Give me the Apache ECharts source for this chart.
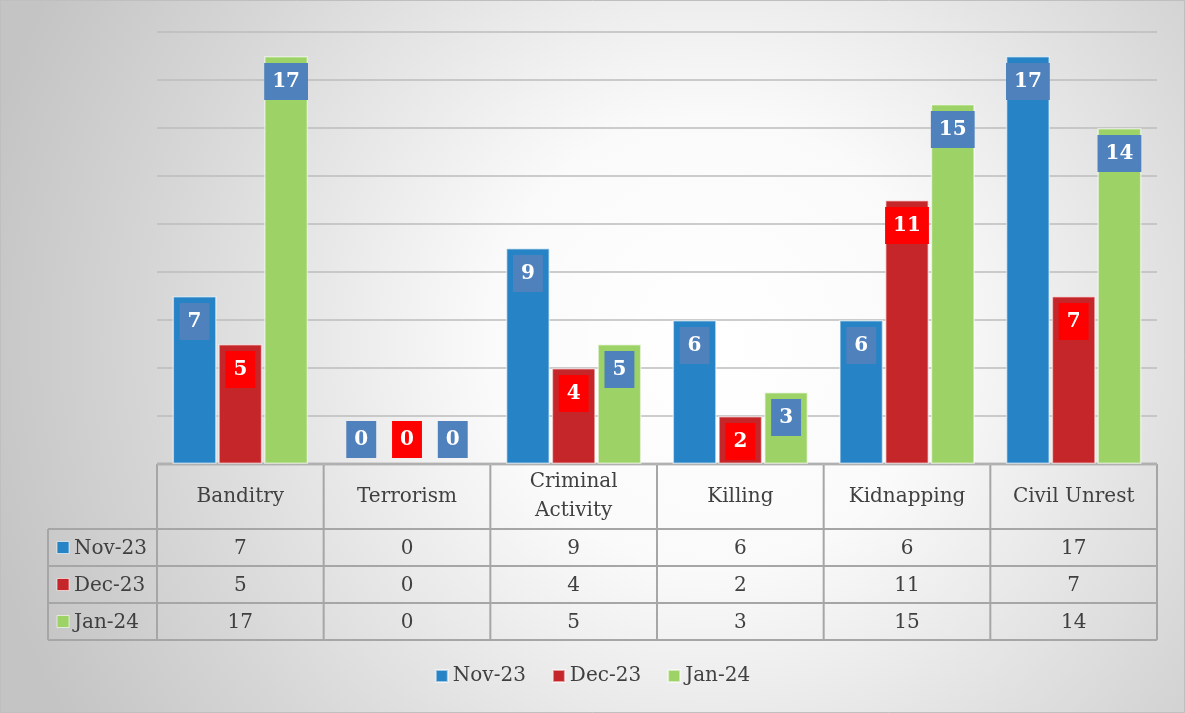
<!DOCTYPE html>
<html>
<head>
<meta charset="utf-8">
<script src="https://cdn.jsdelivr.net/npm/echarts@6/dist/echarts.min.js"></script>
<style>
html, body { margin: 0; padding: 0; }
#main { width: 1185px; height: 713px; }
</style>
</head>
<body>
<div id="main"></div>
<script>
const categories = ['Banditry', 'Terrorism', 'Criminal\nActivity', 'Killing', 'Kidnapping', 'Civil Unrest']
const seriesNames = ['Nov-23', 'Dec-23', 'Jan-24']
const nov23 = [7, 0, 9, 6, 6, 17]
const dec23 = [5, 0, 4, 2, 11, 7]
const jan24 = [17, 0, 5, 3, 15, 14]
const colors = ['#2683C6', '#C5262A', '#9DD366']
const labelBg = ['#4F81BD', '#FF0000', '#4F81BD']

const W = 1185, H = 713
const GL = 157, GR = 28, GT = 32, GB = 249
const font = 'DejaVu Serif'
const txt = '#404040'
const line = '#A6A6A6'

// table geometry
const tTop = H - GB, hdrH = 65, rowH = 37, leftX = 48
const colW = (W - GL - GR) / categories.length
const rows = [nov23, dec23, jan24]

let graphic = []
// outer border
graphic.push({ type: 'rect', shape: { x: 0.5, y: 0.5, width: W - 1, height: H - 1 }, style: { fill: 'none', stroke: '#BFBFBF', lineWidth: 1 }, silent: true })
let tBottom = tTop + hdrH + rowH * rows.length
let hLines = [[GL, tTop]]
for (let i = 0; i <= rows.length; i++) hLines.push([leftX, tTop + hdrH + rowH * i])
hLines.forEach(([x0, y]) => graphic.push({
    type: 'line', shape: { x1: x0, y1: y, x2: W - GR, y2: y },
    style: { stroke: y === tTop ? '#8C8C8C' : line, lineWidth: y === tTop ? 2.5 : 2 }, silent: true
}))
graphic.push({ type: 'line', shape: { x1: leftX, y1: tTop + hdrH, x2: leftX, y2: tBottom }, style: { stroke: line, lineWidth: 2 }, silent: true })
for (let i = 0; i <= categories.length; i++) {
    let x = GL + colW * i
    graphic.push({ type: 'line', shape: { x1: x, y1: tTop, x2: x, y2: tBottom }, style: { stroke: line, lineWidth: 2 }, silent: true })
}
categories.forEach((c, i) => {
    graphic.push({ type: 'text', x: GL + colW * (i + 0.5), y: tTop + hdrH / 2, style: { text: c, font: '20px "' + font + '"', fill: txt, align: 'center', verticalAlign: 'middle', lineHeight: 29 }, silent: true })
    rows.forEach((r, j) => {
        graphic.push({ type: 'text', x: GL + colW * (i + 0.5), y: tTop + hdrH + rowH * (j + 0.5) + 1, style: { text: String(r[i]), font: '20px "' + font + '"', fill: txt, align: 'center', verticalAlign: 'middle' }, silent: true })
    })
})
seriesNames.forEach((n, j) => {
    let cy = tTop + hdrH + rowH * (j + 0.5)
    graphic.push({ type: 'rect', shape: { x: leftX + 9, y: cy - 6, width: 12, height: 12 }, style: { fill: colors[j], stroke: 'rgba(255,255,255,0.6)', lineWidth: 1 }, silent: true })
    graphic.push({ type: 'text', x: leftX + 26, y: cy + 1, style: { text: n, font: '20px "' + font + '"', fill: txt, align: 'left', verticalAlign: 'middle' }, silent: true })
})

const chart = echarts.init(document.getElementById('main'))
chart.setOption({
    backgroundColor: {
        type: 'radial', x: 0.6, y: 0.48, r: 1.05,
        colorStops: [{ offset: 0, color: '#FFFFFF' }, { offset: 0.3, color: '#FAFAFA' }, { offset: 0.75, color: '#D6D6D6' }, { offset: 1, color: '#C4C4C4' }]
    },
    animation: false,
    grid: { left: GL, right: GR, top: GT, bottom: GB, outerBoundsMode: 'none' },
    legend: {
        data: seriesNames, bottom: 22, left: 'center', icon: 'rect', itemWidth: 12, itemHeight: 12, itemGap: 26,
        textStyle: { fontFamily: font, fontSize: 20, color: txt }
    },
    xAxis: {
        type: 'category', data: categories,
        axisLine: { show: false }, axisTick: { show: false }, axisLabel: { show: false }
    },
    yAxis: {
        type: 'value', min: 0, max: 18, interval: 2,
        axisLabel: { show: false }, axisLine: { show: false }, axisTick: { show: false },
        splitLine: { lineStyle: { color: '#BDBDBD', width: 1.5 } }
    },
    series: rows.map((r, j) => ({
        name: seriesNames[j], type: 'bar', barWidth: 44, barGap: '4%',
        itemStyle: { color: colors[j], borderColor: 'rgba(255,255,255,0.55)', borderWidth: 1.5 },
        label: {
            show: true, position: 'insideTop', distance: 7,
            fontFamily: font, fontWeight: 'bold', fontSize: 20, lineHeight: 21, color: '#fff',
            backgroundColor: labelBg[j], padding: [8, 8]
        },
        data: r.map(v => v === 0 ? { value: v, itemStyle: { borderWidth: 0 }, label: { position: 'top', distance: 6 } } : v)
    })),
    graphic: graphic
})
</script>
</body>
</html>
